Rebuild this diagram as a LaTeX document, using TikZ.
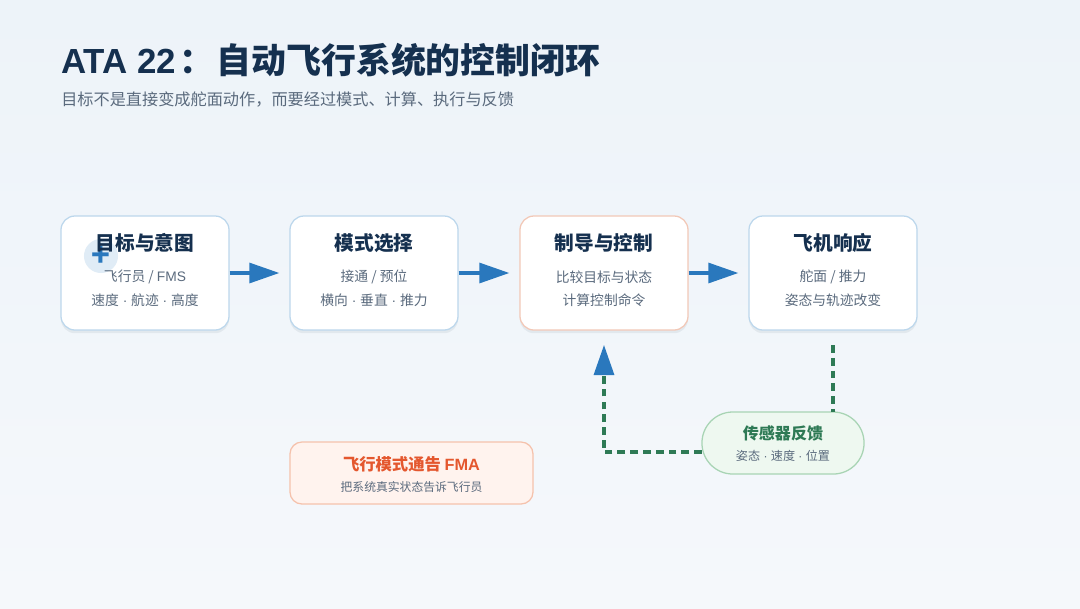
\documentclass[tikz,border=0pt]{standalone}
\usepackage{fontspec}
\setmainfont{Noto Sans CJK SC}
\newfontfamily\latinfont{Liberation Sans}
\usepackage{tikz}
\usetikzlibrary{arrows.meta,shadows}

\definecolor{navy}{HTML}{15304F}
\definecolor{slate}{HTML}{5A6A7D}
\definecolor{flow}{HTML}{2A78BD}
\definecolor{blueline}{HTML}{BCD7EC}
\definecolor{peachline}{HTML}{F2C8B7}
\definecolor{fbgreen}{HTML}{2E7A55}
\definecolor{mint}{HTML}{EEF8F0}
\definecolor{mintline}{HTML}{A8D4B4}
\definecolor{fmaorange}{HTML}{E4572E}
\definecolor{fmafill}{HTML}{FFF3EE}
\definecolor{fmaline}{HTML}{F5C2AC}
\definecolor{bgtop}{HTML}{EDF3F9}
\definecolor{bgbot}{HTML}{F5F8FB}
\definecolor{iconfill}{HTML}{E0ECF6}

\newcommand{\mdot}{{\latinfont\ ·\ }}

\begin{document}
\begin{tikzpicture}[x=0.025cm, y=-0.025cm,
    stage/.style={draw=blueline, fill=white, line width=0.9pt, rounded corners=0.35cm,
      minimum width=4.2cm, minimum height=2.85cm,
      drop shadow={shadow xshift=0pt, shadow yshift=-0.08cm, fill=navy, opacity=0.07}},
    stitle/.style={font=\bfseries\fontsize{14}{16}\selectfont, text=navy},
    sline/.style={font=\fontsize{9.8}{12}\selectfont, text=slate},
    arr/.style={draw=flow, line width=2.2pt, -{Triangle[length=0.75cm, width=0.5cm]}, shorten >=0.25cm},
    fb/.style={draw=fbgreen, line width=2.2pt, dash pattern=on 5.5pt off 3.6pt}]

    % background and margins
    \fill[top color=bgtop, bottom color=bgbot] (0,0) rectangle (1080,608);
    \useasboundingbox (0,0) rectangle (1080,608);

    \node[anchor=base west, inner sep=0pt, font=\bfseries\fontsize{24.8}{28}\selectfont, text=navy] (title) at (61,73) {{\latinfont ATA 22}\kern2pt：\kern2pt自动飞行系统的控制闭环};
    \node[anchor=base west, inner sep=0pt, font=\fontsize{11.5}{14}\selectfont, text=slate] (subtitle) at (61,105) {目标不是直接变成舵面动作，而要经过模式、计算、执行与反馈};

    % main chain
    \node[stage] (goal) at (145,273) {};
    \node[stage] (mode) at (374,273) {};
    \node[stage, draw=peachline] (guide) at (604,273) {};
    \node[stage] (resp) at (833,273) {};

    \node[circle, fill=iconfill, minimum size=0.85cm, inner sep=0pt, text=flow, font=\bfseries\fontsize{22}{22}\selectfont] (goalicon) at (101,256) {+};

    \node[stitle] (goalt) at (145,243) {目标与意图};
    \node[sline] (goalone) at (145,277) {飞行员 / {\latinfont FMS}};
    \node[sline] (goaltwo) at (145,300) {速度\mdot 航迹\mdot 高度};

    \node[stitle] (modet) at (374,243) {模式选择};
    \node[sline] (modeone) at (374,277) {接通 / 预位};
    \node[sline] (modetwo) at (374,300) {横向\mdot 垂直\mdot 推力};

    \node[stitle] (guidet) at (604,243) {制导与控制};
    \node[sline] (guideone) at (604,277) {比较目标与状态};
    \node[sline] (guidetwo) at (604,300) {计算控制命令};

    \node[stitle] (respt) at (833,243) {飞机响应};
    \node[sline] (respone) at (833,277) {舵面 / 推力};
    \node[sline] (resptwo) at (833,300) {姿态与轨迹改变};

    \draw[arr] (goal) -- (mode);
    \draw[arr] (mode) -- (guide);
    \draw[arr] (guide) -- (resp);

    % feedback loop
    \node[draw=mintline, fill=mint, line width=0.9pt, rounded corners=0.77cm, minimum width=4.05cm, minimum height=1.55cm] (sensor) at (783,443) {};
    \node[font=\bfseries\fontsize{11.4}{14}\selectfont, text=fbgreen] (sensort) at (783,433) {传感器反馈};
    \node[sline, font=\fontsize{8.6}{10}\selectfont] (sensorsub) at (783,456) {姿态\mdot 速度\mdot 位置};

    \coordinate (respout) at (833,345);
    \coordinate (sensorin) at (833,412);
    \coordinate (sensorout) at (702,452);
    \coordinate (corner) at (604,452);
    \coordinate (guidein) at (604,345);

    \draw[fb] (respout) -- (sensorin);
    \draw[fb, -{Triangle[length=0.75cm, width=0.5cm, color=flow]}] (sensorout) -- (corner) -- (guidein);

    % FMA note
    \node[draw=fmaline, fill=fmafill, line width=0.9pt, rounded corners=0.3cm, minimum width=6.075cm, minimum height=1.55cm] (fma) at (411.5,473) {};
    \node[font=\bfseries\fontsize{11.6}{14}\selectfont, text=fmaorange] (fmat) at (411.5,464) {飞行模式通告 {\latinfont FMA}};
    \node[sline, font=\fontsize{8.4}{10}\selectfont] (fmasub) at (411.5,487) {把系统真实状态告诉飞行员};
\end{tikzpicture}
\end{document}
